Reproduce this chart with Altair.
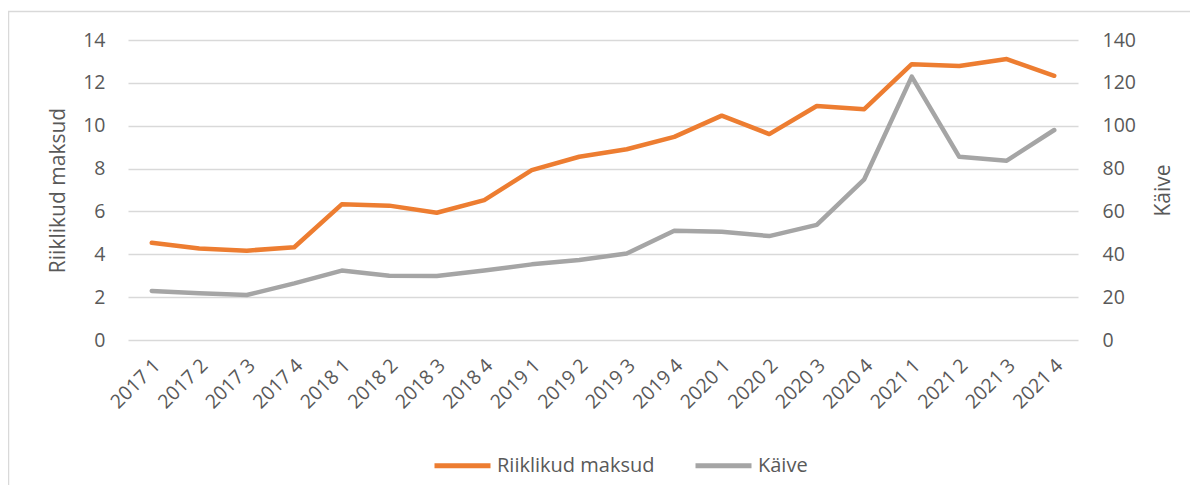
import altair as alt
import pandas as pd

quarters = ["2017 1", "2017 2", "2017 3", "2017 4",
            "2018 1", "2018 2", "2018 3", "2018 4",
            "2019 1", "2019 2", "2019 3", "2019 4",
            "2020 1", "2020 2", "2020 3", "2020 4",
            "2021 1", "2021 2", "2021 3", "2021 4"]
riiklikud_maksud = [4.54, 4.27, 4.17, 4.33, 6.33, 6.27, 5.94, 6.53, 7.93, 8.55,
                    8.90, 9.48, 10.47, 9.61, 10.92, 10.77, 12.87, 12.79, 13.11, 12.33]
kaive = [22.9, 21.8, 21.0, 26.4, 32.4, 30.0, 29.9, 32.4, 35.3, 37.3,
         40.4, 51.0, 50.5, 48.5, 53.7, 75.0, 122.9, 85.5, 83.7, 98.0]
series_names = ["Riiklikud maksud", "Käive"]
series_colors = ["#ED7D31", "#A5A5A5"]
left_ticks = [0, 2, 4, 6, 8, 10, 12, 14]
right_ticks = [0, 20, 40, 60, 80, 100, 120, 140]

rows = []
for q, a, b in zip(quarters, riiklikud_maksud, kaive):
    rows.append({"kvartal": q, "seeria": series_names[0], "vaartus": a})
    rows.append({"kvartal": q, "seeria": series_names[1], "vaartus": b})
df = pd.DataFrame(rows)

FONT = "Open Sans"
TXT = "#595959"
GRID = "#D9D9D9"

x_enc = alt.X(
    "kvartal:N", sort=quarters, title=None,
    axis=alt.Axis(labelAngle=-45, labelAlign="right", labelBaseline="middle",
                  labelPadding=22, labelOffset=5, ticks=False, domain=False, grid=False,
                  labelFontSize=19.5, labelColor=TXT, labelFont=FONT, labelOverlap=False),
)

color_enc = alt.Color(
    "seeria:N",
    scale=alt.Scale(domain=series_names, range=series_colors),
    legend=alt.Legend(orient="none", legendX=304, legendY=395, direction="horizontal",
                      title=None, symbolType="stroke", symbolSize=3136,
                      symbolStrokeWidth=5, labelFontSize=20, labelColor=TXT,
                      labelFont=FONT, columnPadding=30, labelOffset=4, padding=0),
)

base = alt.Chart(df).encode(x=x_enc, color=color_enc)

left = base.transform_filter(alt.datum.seeria == series_names[0]).mark_line(
    strokeWidth=4.5, strokeCap="round", strokeJoin="round"
).encode(
    y=alt.Y("vaartus:Q", scale=alt.Scale(domain=[0, 14], nice=False),
            axis=alt.Axis(values=left_ticks, title="Riiklikud maksud", grid=True,
                          gridColor=GRID, gridWidth=1.5, domain=False, ticks=False,
                          tickSize=0, labelPadding=23, labelFontSize=19.5, labelColor=TXT,
                          labelFont=FONT, titleFontSize=21, titleColor=TXT,
                          titleFont=FONT, titleFontWeight="normal", titleAngle=-90,
                          titleX=-70, titleY=150, titleAlign="center",
                          titleBaseline="middle"))
)

right = base.transform_filter(alt.datum.seeria == series_names[1]).mark_line(
    strokeWidth=4.5, strokeCap="round", strokeJoin="round"
).encode(
    y=alt.Y("vaartus:Q", scale=alt.Scale(domain=[0, 140], nice=False),
            axis=alt.Axis(values=right_ticks, orient="right", title="Käive", grid=False,
                          domain=False, ticks=False, tickSize=0, labelPadding=24,
                          labelFontSize=19.5, labelColor=TXT, labelFont=FONT,
                          titleFontSize=21, titleColor=TXT, titleFont=FONT,
                          titleFontWeight="normal", titleAngle=-90, titleX=85,
                          titleY=150, titleAlign="center", titleBaseline="middle"))
)

frame = alt.Chart(alt.InlineData(values=[{"k": 1}])).mark_rect(
    filled=False, stroke=GRID, strokeWidth=1.5
).encode(x=alt.value(-119.5), x2=alt.value(1300), y=alt.value(-28.5), y2=alt.value(700))

chart = alt.layer(frame, right, left).resolve_scale(y="independent").properties(
    width=950, height=300,
    autosize=alt.AutoSizeParams(type="none"),
    padding={"left": 120, "top": 32, "right": 112, "bottom": 145},
    background="white",
).configure_view(stroke=None)

chart.save("out.html", embed_options={"renderer": "svg", "actions": False})
